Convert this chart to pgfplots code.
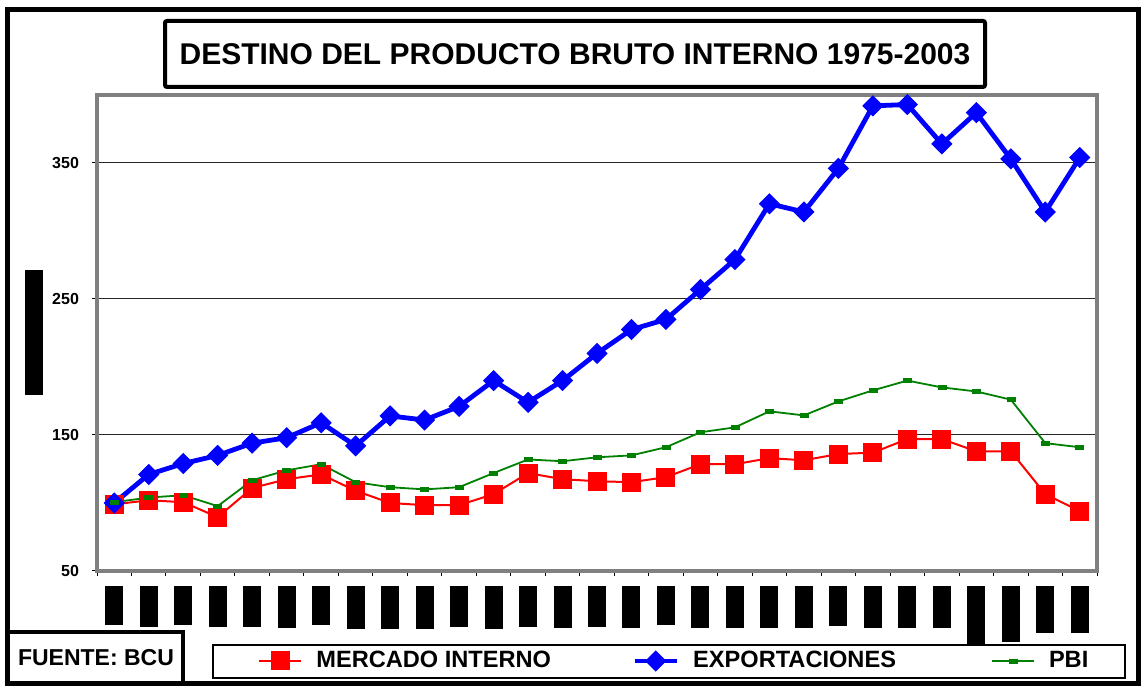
\documentclass[border=0pt]{standalone}
\usepackage{fontspec}
\setmainfont{Liberation Sans}
\usepackage{pgfplots}
\pgfplotsset{compat=1.18}

\definecolor{xred}{RGB}{255,0,0}
\definecolor{xblue}{RGB}{0,0,255}
\definecolor{xgreen}{RGB}{0,128,0}
\definecolor{xgray}{RGB}{128,128,128}

\pgfplotstableread{
idx mercado export pbi
0  99.0  100.0 100.6
1  102.0 121.0 104.0
2  100.6 129.0 105.7
3  89.6  135.0 97.7
4  111.0 144.0 116.7
5  117.5 148.0 124.0
6  121.0 159.0 128.5
7  109.0 142.0 115.3
8  100.0 164.0 111.6
9  98.4  161.0 110.0
10 98.4  171.0 111.6
11 106.5 190.0 122.0
12 122.0 174.0 132.0
13 117.5 190.0 130.7
14 116.0 210.0 133.6
15 115.3 227.5 135.0
16 119.0 235.0 141.0
17 128.5 257.0 152.0
18 128.5 279.0 155.6
19 133.0 320.0 167.4
20 131.4 314.0 164.4
21 136.0 346.0 174.7
22 137.0 392.0 182.8
23 147.0 393.0 190.0
24 147.0 364.0 185.0
25 138.0 387.0 182.0
26 138.0 353.0 176.0
27 106.5 314.0 144.0
28 94.0  354.0 141.0
}\datatable

\newcommand{\blk}[1]{\rule{9pt}{#1pt}}

\begin{document}
\begin{tikzpicture}
\path[use as bounding box] (0,0) rectangle (572pt,344pt);

% frames, in pixel units of the 1144x688 reference
\begin{scope}[x=0.5pt,y=-0.5pt,shift={(0pt,344pt)}]
  \draw[line width=2.5pt] (7.5,9.5) rectangle (1138.5,684);
  \draw[line width=2pt, rounded corners=1pt] (165,21) rectangle (985,87);
  \node[font=\bfseries\fontsize{15}{18}\selectfont] at (575,54)
    {DESTINO DEL PRODUCTO BRUTO INTERNO 1975-2003};
  \draw[line width=2pt] (8,632) -- (183,632) -- (183,686);
  \node[font=\bfseries\fontsize{11.5}{14}\selectfont] at (96,658) {FUENTE: BCU};
  \draw[line width=0.6pt] (213,645) rectangle (1125,678);
\end{scope}

\begin{axis}[
  at={(48.5pt,58.5pt)}, anchor=south west,
  width=500pt, height=238pt, scale only axis,
  xmin=-0.5, xmax=28.5, ymin=50, ymax=400,
  xtick={-0.5,0.5,...,28.5},
  x tick label as interval,
  xticklabels={\blk{19.5},\blk{20.5},\blk{19.5},\blk{20.5},\blk{20.5},\blk{21},\blk{19.5},\blk{21.5},\blk{21.5},\blk{21.5},
               \blk{20.5},\blk{21.5},\blk{20.5},\blk{21},\blk{20.5},\blk{21},\blk{19.5},\blk{21},\blk{21},\blk{21},
               \blk{21},\blk{20},\blk{21},\blk{21},\blk{21},\blk{29.5},\blk{28},\blk{23.5},\blk{23.5}},
  xticklabel style={inner sep=0pt, anchor=north, yshift=-5pt},
  xtick pos=bottom, ytick pos=left,
  ytick={50,150,250,350},
  yticklabel style={font=\bfseries\fontsize{8}{10}\selectfont, xshift=-3pt},
  /pgf/number format/assume math mode=true,
  tick align=outside,
  major tick length=2.5pt,
  tick style={black, line width=0.5pt},
  ymajorgrids,
  major grid style={black!85, line width=0.5pt},
  axis line style={draw=xgray, line width=2pt},
  ylabel={\rule{62.5pt}{9pt}},
  ylabel style={at={(axis description cs:-0.063,0.5)}, anchor=center, inner sep=0pt},
  clip=false,
  legend columns=3,
  legend image code/.code={\draw[mark repeat=2,mark phase=2] plot coordinates {(0pt,0pt) (10.5pt,0pt) (21pt,0pt)};},
  legend style={draw=none, fill=none, at={(axis description cs:0.161,-0.189)}, anchor=west,
    inner xsep=0pt, inner ysep=0pt, font=\bfseries\fontsize{11.8}{14}\selectfont,
    nodes={inner sep=0pt},
    /tikz/every odd column/.append style={column sep=7pt},
    /tikz/every even column/.append style={column sep=40pt}},
]
\addplot[xred, line width=1pt, mark=square*, mark size=4.25pt, mark options={solid, fill=xred, draw=xred}]
  table[x=idx, y=mercado] {\datatable};
\addlegendentry{\makebox[118pt][l]{MERCADO INTERNO}}
\addplot[xblue, line width=2.4pt, mark=square*, mark size=3.5pt, mark options={solid, rotate=45, fill=xblue, draw=xblue, line width=0.5pt}]
  table[x=idx, y=export] {\datatable};
\addlegendentry{\makebox[109pt][l]{EXPORTACIONES}}
\addplot[xgreen, line width=0.9pt, mark=square*, mark size=1pt, mark options={solid, xscale=2, fill=xgreen, draw=xgreen, line width=0.3pt}]
  table[x=idx, y=pbi] {\datatable};
\addlegendentry{PBI}
\end{axis}
\end{tikzpicture}
\end{document}
